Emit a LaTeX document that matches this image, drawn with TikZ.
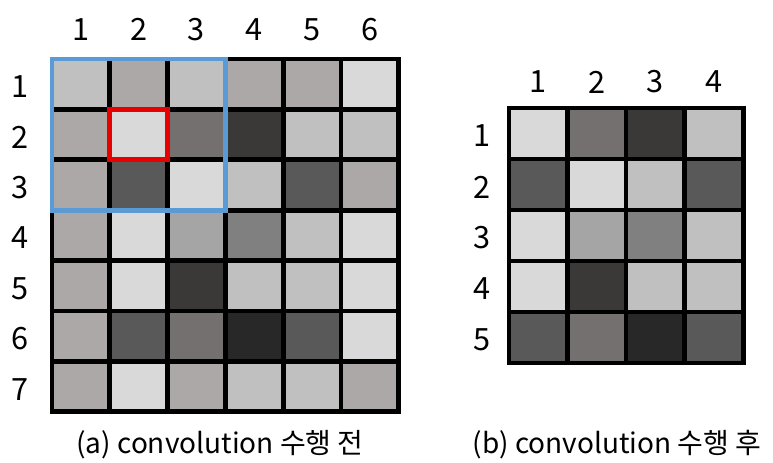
\documentclass[tikz,border=0pt]{standalone}
\usepackage{fontspec}
\setmainfont{Noto Sans CJK KR}
\usepackage{xcolor}
\usepackage{tikz}

\definecolor{gA}{RGB}{217,217,217}
\definecolor{gB}{RGB}{192,192,192}
\definecolor{gC}{RGB}{172,168,168}
\definecolor{gD}{RGB}{165,165,165}
\definecolor{gE}{RGB}{128,128,128}
\definecolor{gF}{RGB}{117,112,112}
\definecolor{gG}{RGB}{89,89,89}
\definecolor{gH}{RGB}{59,56,56}
\definecolor{gI}{RGB}{40,40,40}
\definecolor{winblue}{RGB}{91,155,213}
\definecolor{centerred}{RGB}{230,0,0}

\begin{document}
\begin{tikzpicture}[x=0.75pt,y=-0.75pt,
  lbl/.style={font=\fontsize{23}{23}\selectfont},
  captext/.style={font=\fontsize{21}{21}\selectfont},
  gridline/.style={black,line width=3.6pt}]

\useasboundingbox (0,0) rectangle (773,463);

% (a) input image
\begin{scope}[shift={(52,59)},x=43.35pt,y=-37.8pt]
\foreach \row [count=\j] in {%
{gB,gC,gB,gC,gC,gA},%
{gC,gA,gF,gH,gB,gB},%
{gC,gG,gA,gB,gG,gC},%
{gC,gA,gD,gE,gB,gA},%
{gC,gA,gH,gB,gB,gA},%
{gC,gG,gF,gI,gG,gA},%
{gC,gA,gC,gB,gB,gC}}{
    \foreach \c [count=\i] in \row
        \fill[\c] (\i-1,\j-1) rectangle (\i,\j);
}
\foreach \i in {1,...,5}
    \draw[gridline] (\i,0) -- (\i,7);
\foreach \j in {1,...,6}
    \draw[gridline] (0,\j) -- (6,\j);
\draw[gridline] (0,0) rectangle (6,7);
\draw[winblue, line width=3.6pt] (0,0) rectangle (3,3);
\draw[centerred, line width=3.6pt] (1,1) rectangle (2,2);
\foreach \i in {1,...,6}
    \node[lbl] (cola\i) at (\i-0.5,-0.58) {\i};
\foreach \j in {1,...,7}
    \node[lbl] (rowa\j) at (-0.55,\j-0.45) {\j};
\end{scope}

% (b) feature map
\begin{scope}[shift={(509,108)},x=43.9pt,y=-38.25pt]
\foreach \row [count=\j] in {%
{gA,gF,gH,gB},%
{gG,gA,gB,gG},%
{gA,gD,gE,gB},%
{gA,gH,gB,gB},%
{gG,gF,gI,gG}}{
    \foreach \c [count=\i] in \row
        \fill[\c] (\i-1,\j-1) rectangle (\i,\j);
}
\foreach \i in {1,...,3}
    \draw[gridline] (\i,0) -- (\i,5);
\foreach \j in {1,...,4}
    \draw[gridline] (0,\j) -- (4,\j);
\draw[gridline] (0,0) rectangle (4,5);
\foreach \i in {1,...,4}
    \node[lbl] (colb\i) at (\i-0.5,-0.51) {\i};
\foreach \j in {1,...,5}
    \node[lbl] (rowb\j) at (-0.46,\j-0.45) {\j};
\end{scope}

\node[captext] (capa) at (220,445) {(a) convolution 수행 전};
\node[captext] (capb) at (617,445) {(b) convolution 수행 후};

\end{tikzpicture}
\end{document}
